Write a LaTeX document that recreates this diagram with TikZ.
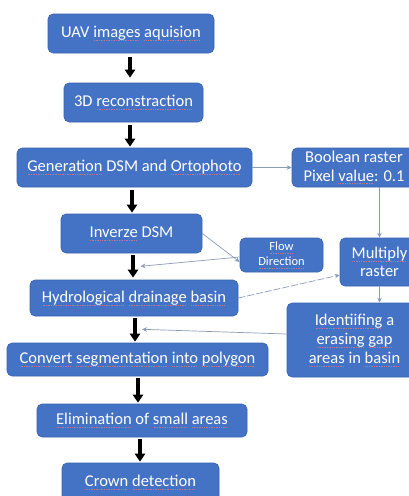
\documentclass[tikz,border=0pt]{standalone}
\usepackage{fontspec}
\setmainfont{Carlito}
\usetikzlibrary{arrows.meta,calc}

\definecolor{boxblue}{HTML}{4472C4}
\definecolor{boxedge}{HTML}{3A62AE}
\definecolor{linkgray}{HTML}{8A9BB5}
\definecolor{spellred}{HTML}{B57A9A}

% dotted underline under flagged words
\newsavebox\spellbox
\newcommand\spell[1]{\sbox\spellbox{#1}\leavevmode
  \rlap{\color{spellred}\hbox to\wd\spellbox{\cleaders\hbox{\rule[-2.8pt]{0.9pt}{0.45pt}\kern0.8pt}\hfill}}%
  \usebox\spellbox}

\tikzset{
  box/.style={draw=boxedge, line width=0.6pt, fill=boxblue, rounded corners=5pt,
    text=white, font=\fontsize{16.5}{18.5}\selectfont, inner sep=0pt, align=center},
  bigarrow/.style={line width=3.2pt, -{Triangle[width=10pt,length=8pt]}},
  link/.style={draw=linkgray, line width=0.7pt, -{Stealth[width=4.5pt,length=5pt]}},
}

\begin{document}
\begin{tikzpicture}[x=1pt,y=-1pt]
\useasboundingbox (0,0) rectangle (409,496);
\clip (0,0) rectangle (409,496);

% main chain
\node[box, minimum width=166, minimum height=39] (uav)  at (131,33.5)   {UAV \spell{images} \spell{aquision}};
\node[box, minimum width=139, minimum height=39] (rec)  at (133.5,102.5) {3D \spell{reconstraction}};
\node[box, minimum width=235, minimum height=39] (gen)  at (134.5,167.5) {\spell{Generation} DSM and \spell{Ortophoto}};
\node[box, minimum width=141, minimum height=39] (inv)  at (131.5,233.5) {\spell{Inverze} DSM};
\node[box, minimum width=208, minimum height=36] (hyd)  at (134,298)     {\spell{Hydrological} \spell{drainage} \spell{basin}};
\node[box, minimum width=261, minimum height=33] (conv) at (137.5,359.5) {\spell{Convert} \spell{segmentation} \spell{into} \spell{polygon}};
\node[box, minimum width=210, minimum height=33] (elim) at (142,420.5)   {\spell{Elimination} of \spell{small} \spell{areas}};
\node[box, minimum width=157, minimum height=38] (crown) at (140.5,482)  {\spell{Crown} \spell{detection}};

% side branch
\node[box, minimum width=124, minimum height=39] (bool) at (354,167.5)   {Boolean raster\\Pixel \spell{value}: 0.1};
\node[box, minimum width=83, minimum height=34, font=\fontsize{12.5}{15}\selectfont] (flow) at (281.5,255) {\spell{Flow}\\\spell{Direction}};
\node[box, minimum width=79, minimum height=48] (mult) at (379.5,262)    {\spell{Multiply}\\raster};
\node[box, minimum width=135, minimum height=74, font=\fontsize{16.5}{19}\selectfont] (ident) at (354.5,340) {\spell{Identiifing} a\\\spell{erasing} \spell{gap}\\\spell{areas} in \spell{basin}};

% thick process arrows
\draw[bigarrow] ($(uav.south)+(-1,4)$)   -- ($(uav.south |- rec.north)+(-1,-5)$);
\draw[bigarrow] ($(rec.south)+(-3.5,3)$) -- ($(rec.south |- gen.north)+(-3.5,-1)$);
\draw[bigarrow] ($(gen.south)+(-2.5,3)$) -- ($(gen.south |- inv.north)+(-2.5,-1)$);
\draw[bigarrow] ($(inv.south)+(1.5,2)$)  -- ($(inv.south |- hyd.north)+(1.5,-2)$);
\draw[bigarrow] ($(hyd.south)+(1,2)$)    -- ($(hyd.south |- conv.north)+(1,-1)$);
\draw[bigarrow] ($(conv.south)+(0.5,2)$) -- ($(conv.south |- elim.north)+(0.5,-1)$);
\draw[bigarrow] ($(elim.south)+(-2,2)$)  -- ($(elim.south |- crown.north)+(-2,-1)$);

% thin links
\coordinate (fdtip) at ($(inv.south)+(9,13)$);
\coordinate (gaptip) at ($(hyd.south)+(8,13)$);
\draw[link] (gen.east) -- (bool.west);
\draw[link] (mult.north |- bool.south) -- (mult.north);
\draw[link] (mult.south) -- (mult.south |- ident.north);
\draw[link] (inv.east) -- ($(flow.west)+(0,7)$);
\draw[link] ($(flow.west)+(0,2)$) -- (fdtip);
\draw[link, dash pattern=on 7pt off 2pt] (hyd.east) -- ($(mult.west)+(0,13)$);
\draw[link] ($(ident.west)+(0,-6)$) -- (gaptip);
\end{tikzpicture}
\end{document}
